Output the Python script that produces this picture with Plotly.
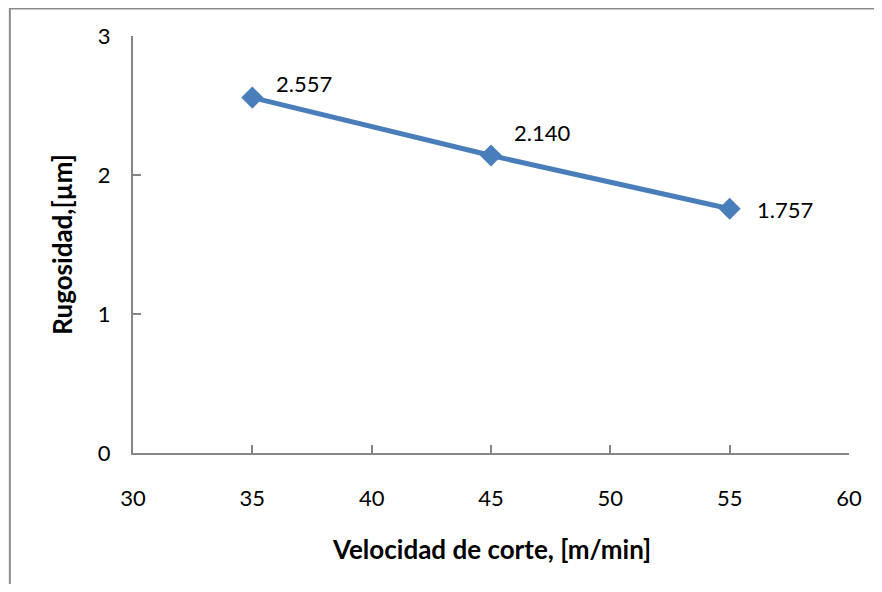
import plotly.graph_objects as go

# Data
velocidad = [35, 45, 55]
rugosidad = [2.557, 2.140, 1.757]
x_ticks = [30, 35, 40, 45, 50, 55, 60]
y_ticks = [0, 1, 2, 3]
x_title = "Velocidad de corte, [m/min]"
y_title = "Rugosidad,[µm]"

# label offsets (pixels) — layout, not data
label_dx = [22, 21, 25]
label_dy = [14, 23, -1]

FONT = "Lato, Carlito, Calibri, sans-serif"
BLUE = "#4A7EBB"
AXIS = "#868686"
PAGE_OFF = 8  # browser body margin
W, H = 866, 576  # fits inside the 882x592 window with body margins

fig = go.Figure()
fig.add_trace(go.Scatter(
    x=velocidad, y=rugosidad, mode="lines+markers",
    line=dict(color=BLUE, width=5),
    marker=dict(symbol="diamond", size=17, color=BLUE, line=dict(width=0)),
    hoverinfo="x+y", showlegend=False,
))

annotations = []
for xv, yv, dx, dy in zip(velocidad, rugosidad, label_dx, label_dy):
    annotations.append(dict(
        x=xv, y=yv, xref="x", yref="y", text=f"{yv:.3f}", showarrow=False,
        xanchor="left", yanchor="middle", xshift=dx, yshift=dy,
        font=dict(family=FONT, size=22, color="#000000"),
    ))
annotations.append(dict(
    x=0.5, y=-0.230, xref="paper", yref="paper", text=f"<b>{x_title}</b>",
    showarrow=False, xanchor="center", yanchor="middle",
    font=dict(family=FONT, size=26, color="#000000"),
))
annotations.append(dict(
    x=-0.1003, y=0.5, xref="paper", yref="paper", text=f"<b>{y_title}</b>",
    showarrow=False, xanchor="center", yanchor="middle", textangle=-90,
    font=dict(family=FONT, size=26, color="#000000"),
))

fig.update_layout(
    width=W, height=H,
    margin=dict(l=133 - PAGE_OFF, r=W - (851 - PAGE_OFF), t=36 - PAGE_OFF,
                b=H - (453 - PAGE_OFF), pad=0),
    paper_bgcolor="white", plot_bgcolor="white",
    font=dict(family=FONT, size=22, color="#000000"),
    annotations=annotations,
    shapes=[dict(type="rect", xref="paper", yref="paper",
                 x0=(9.5 - 133) / 718, x1=1.2, y0=-0.6, y1=1 + (36 - 8.5) / 417,
                 line=dict(color="#8C8C8C", width=2), fillcolor="rgba(0,0,0,0)",
                 layer="below")],
    xaxis=dict(range=[30, 60], tickvals=x_ticks, showgrid=False, zeroline=False,
               showline=True, linecolor=AXIS, linewidth=2,
               ticks="inside", ticklen=8, tickcolor=AXIS, tickwidth=2,
               ticklabelstandoff=25, tickfont=dict(size=22)),
    yaxis=dict(range=[0, 3], tickvals=y_ticks, showgrid=False, zeroline=False,
               showline=True, linecolor=AXIS, linewidth=2,
               ticks="inside", ticklen=8, tickcolor=AXIS, tickwidth=2,
               ticklabelstandoff=16, tickfont=dict(size=22)),
)

fig.write_html("out.html")
